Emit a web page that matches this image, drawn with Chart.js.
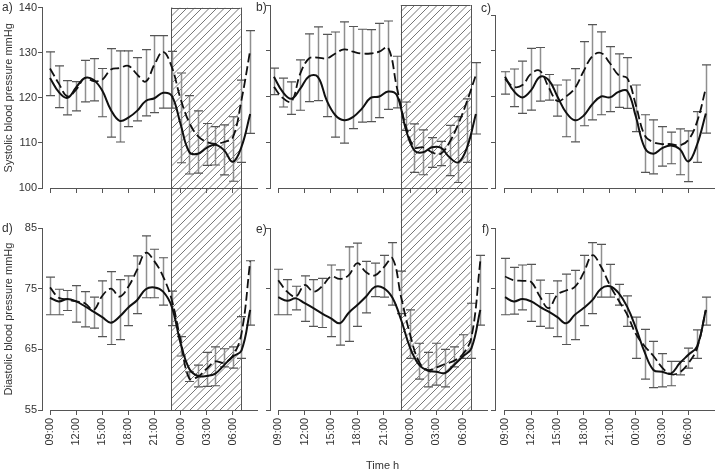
<!DOCTYPE html>
<html>
<head>
<meta charset="utf-8">
<script src="https://cdn.jsdelivr.net/npm/chart.js@4"></script>
<style>
  body { margin: 0; background: #fff; }
  #wrap { position: relative; width: 720px; height: 473px; overflow: hidden; font-family: "Liberation Sans", Arial, sans-serif; color: #333; }
  canvas { position: absolute; }
  .lbl { position: absolute; font-size: 12px; line-height: 12px; }
</style>
</head>
<body>
<div id="wrap"></div>
<script>
// hours after 09:00
const hours = [0, 1, 2, 3, 4, 5, 6, 7, 8, 9, 10, 11, 12, 13, 14, 15, 16, 17, 18, 19, 20, 21, 22, 23];
const hoursB = [-0.5, 0.5, 1.5, 2.5, 3.5, 4.5, 5.5, 6.5, 7.5, 8.5, 9.5, 10.5, 11.5, 12.5, 13.5, 14.5, 15.5, 16.5, 17.5, 18.5, 19.5, 20.5, 21.5, 22.5];
const tickHours = [0, 3, 6, 9, 12, 15, 18, 21];
const tickLabels = ['09:00', '12:00', '15:00', '18:00', '21:00', '00:00', '03:00', '06:00'];
const nightStart = 13.95, nightEnd = 21.9;

const sysTicks = [100, 110, 120, 130, 140];
const sysTicksC = [100, 110, 120, 130, 137.8];
const diaTicks = [55, 65, 75, 85];

// a) systolic
const solidA = [124.4, 121.3, 120.0, 122.3, 124.4, 124.0, 121.6, 117.3, 114.9, 115.6, 117.1, 119.3, 119.9, 121.1, 120.4, 114.2, 108.0, 107.6, 108.9, 109.6, 108.4, 105.8, 109.1, 116.4];
const dashedA = [126.5, 123.2, 120.3, 121.8, 124.4, 123.7, 124.0, 126.3, 126.6, 127.1, 125.2, 123.6, 127.4, 130.2, 126.8, 119.8, 114.5, 111.5, 110.2, 109.8, 110.2, 111.2, 119.5, 130.5];
const hiA = [130.2, 127.1, 123.8, 123.6, 128.3, 128.7, 126.5, 130.9, 130.4, 130.4, 128.9, 130.7, 133.8, 133.8, 130.3, 125.5, 120.5, 117.1, 114.3, 113.6, 114.0, 115.8, 123.9, 134.9];
const loA = [120.5, 117.8, 116.2, 117.1, 119.1, 119.3, 115.8, 111.3, 110.2, 113.6, 114.9, 116.0, 116.7, 117.7, 117.7, 105.6, 103.1, 103.3, 105.0, 105.1, 102.9, 101.5, 105.7, 112.1];

// b) systolic
const solidB = [124.3, 121.0, 119.5, 121.7, 124.4, 124.3, 119.2, 115.9, 114.8, 115.5, 117.3, 119.7, 120.0, 121.1, 120.3, 113.0, 108.2, 107.8, 108.9, 108.8, 106.7, 105.6, 108.9, 116.2];
const dashedB = [122.1, 119.7, 118.9, 125.0, 128.3, 128.5, 128.3, 129.4, 130.3, 129.8, 129.4, 129.4, 129.8, 130.7, 122.0, 113.7, 108.9, 108.9, 107.8, 107.5, 110.0, 114.0, 119.0, 124.7];
const hiB = [126.2, 124.0, 123.2, 128.0, 133.7, 135.2, 133.6, 134.1, 136.3, 135.3, 134.7, 134.6, 136.0, 136.5, 128.8, 118.8, 114.0, 112.7, 111.0, 110.2, 113.7, 115.6, 119.5, 127.4];
const loB = [120.4, 117.7, 116.1, 117.0, 118.9, 119.1, 115.6, 111.1, 109.8, 113.0, 114.4, 114.5, 115.4, 117.2, 117.5, 112.6, 103.4, 102.9, 104.5, 104.9, 102.7, 101.2, 105.6, 111.8];

// c) systolic
const solidC = [124.3, 121.2, 119.8, 121.4, 124.3, 123.6, 120.0, 116.5, 114.8, 115.8, 118.3, 120.0, 119.8, 121.0, 121.2, 115.5, 108.8, 107.5, 108.7, 109.3, 108.5, 105.8, 109.5, 116.3];
const dashedC = [123.8, 122.1, 122.5, 125.0, 125.6, 122.0, 119.0, 120.0, 121.8, 125.5, 128.8, 129.5, 127.3, 124.7, 124.0, 118.0, 111.5, 110.0, 109.6, 109.6, 109.3, 110.5, 114.5, 121.8];
const hiC = [125.4, 126.0, 127.7, 130.5, 130.7, 124.8, 122.5, 123.6, 126.1, 132.0, 135.7, 134.1, 130.9, 129.3, 128.5, 122.5, 116.0, 114.9, 113.4, 112.2, 112.9, 112.5, 116.7, 126.9];
const loC = [120.5, 117.8, 116.3, 117.0, 119.0, 119.2, 115.7, 111.2, 110.1, 113.6, 114.9, 116.0, 116.7, 117.6, 117.4, 112.3, 103.4, 103.1, 104.8, 105.3, 102.9, 101.4, 105.6, 112.0];

// d) diastolic
const solidD = [73.5, 72.9, 73.3, 72.9, 72.1, 71.2, 70.3, 69.4, 70.4, 71.9, 73.1, 74.9, 75.2, 74.5, 72.0, 66.0, 61.8, 60.6, 60.6, 61.0, 62.4, 63.8, 64.8, 71.5];
const dashedD = [75.2, 73.5, 73.2, 72.9, 72.6, 71.5, 73.8, 75.0, 73.7, 75.3, 78.1, 80.9, 79.5, 77.0, 73.1, 66.5, 60.2, 60.5, 61.8, 63.0, 62.8, 63.9, 67.6, 79.5];
const hiD = [76.9, 74.9, 74.7, 75.5, 74.5, 73.6, 76.3, 77.8, 76.5, 77.1, 80.4, 83.7, 81.5, 80.1, 74.6, 67.1, 61.3, 62.4, 64.5, 65.4, 65.1, 65.4, 70.4, 79.6];
const loD = [70.7, 70.7, 71.4, 69.5, 68.7, 68.5, 67.1, 65.8, 66.6, 68.9, 70.9, 73.5, 73.5, 72.3, 68.9, 63.9, 59.7, 58.8, 58.9, 59.0, 62.1, 61.9, 63.5, 69.0];

// e) diastolic
const solidE = [73.6, 73.0, 73.4, 72.6, 71.8, 70.9, 70.1, 69.3, 71.0, 72.3, 73.7, 75.3, 75.1, 73.5, 69.8, 65.3, 62.5, 61.5, 61.3, 61.1, 62.4, 63.8, 65.2, 71.5];
const dashedE = [76.4, 74.5, 73.7, 75.6, 74.5, 75.4, 77.0, 76.6, 77.2, 79.2, 77.7, 77.2, 78.5, 80.0, 73.5, 67.5, 63.0, 61.6, 62.0, 62.6, 63.1, 64.2, 67.0, 79.5];
const hiE = [78.2, 76.5, 75.4, 77.1, 76.5, 76.7, 78.9, 78.1, 81.9, 82.5, 79.5, 79.2, 80.5, 82.6, 77.9, 71.5, 66.0, 64.5, 66.0, 65.0, 65.4, 67.4, 72.6, 80.5];
const loE = [70.7, 70.7, 71.5, 69.6, 68.8, 68.6, 67.1, 65.7, 66.3, 68.8, 71.0, 73.7, 73.6, 72.3, 70.9, 63.5, 60.1, 58.8, 59.1, 58.8, 62.1, 63.5, 63.5, 69.0];

// f) diastolic
const solidF = [73.6, 72.9, 73.3, 72.9, 72.0, 71.2, 70.3, 69.3, 70.7, 71.8, 73.1, 75.0, 75.4, 74.3, 72.0, 68.5, 64.5, 61.6, 61.3, 61.0, 62.7, 64.1, 65.5, 71.5];
const dashedF = [77.0, 76.4, 76.3, 76.1, 73.7, 71.8, 74.0, 74.7, 75.3, 77.6, 80.5, 78.6, 75.6, 73.1, 70.7, 67.5, 65.5, 63.9, 62.0, 60.9, 61.2, 62.7, 65.2, 71.5];
const hiF = [80.0, 78.5, 78.9, 79.0, 76.4, 74.2, 76.3, 77.4, 78.0, 80.5, 82.6, 82.3, 79.0, 75.7, 73.8, 70.3, 68.3, 66.3, 64.3, 63.0, 63.0, 65.2, 68.2, 73.6];
const loF = [70.7, 70.8, 71.5, 69.6, 68.8, 68.5, 67.1, 65.8, 66.6, 68.9, 70.9, 73.6, 73.6, 72.3, 68.8, 63.5, 60.1, 58.7, 58.8, 59.0, 60.8, 61.9, 63.5, 69.0];

const rows = [
    { top: 0, height: 208, padTop: 5, axisH: 20, min: 100, max: 140, ticks: sysTicks, title: 'Systolic blood pressure mmHg', labels: false },
    { top: 208, height: 265, padTop: 20, axisH: 63, min: 55, max: 85, ticks: diaTicks, title: 'Diastolic blood pressure mmHg', labels: true }
];
const cols = [
    { left: 0, width: 260, axisW: 42, xMin: -0.92, xMax: 23.9 },
    { left: 262, width: 228, axisW: 8, xMin: -0.945, xMax: 23.88 },
    { left: 488, width: 229, axisW: 7, xMin: -1.145, xMax: 24.05 }
];

const panels = [
    { name: 'a)', row: 0, col: 0, hrs: hours, solid: solidA, dashed: dashedA, hi: hiA, lo: loA, night: true },
    { name: 'b)', row: 0, col: 1, hrs: hoursB, solid: solidB, dashed: dashedB, hi: hiB, lo: loB, night: true },
    { name: 'c)', row: 0, col: 2, hrs: hours, solid: solidC, dashed: dashedC, hi: hiC, lo: loC, night: false, max: 137.8, ticks: sysTicksC, padTop: 15 },
    { name: 'd)', row: 1, col: 0, hrs: hours, solid: solidD, dashed: dashedD, hi: hiD, lo: loD, night: true },
    { name: 'e)', row: 1, col: 1, hrs: hours, solid: solidE, dashed: dashedE, hi: hiE, lo: loE, night: true },
    { name: 'f)', row: 1, col: 2, hrs: hours, solid: solidF, dashed: dashedF, hi: hiF, lo: loF, night: false }
];

const labelPos = {
    'a)': [2, 1], 'b)': [256, 1], 'c)': [481, 2],
    'd)': [2, 222], 'e)': [256, 223], 'f)': [482, 223]
};

Chart.defaults.font.family = '"Liberation Sans", Arial, sans-serif';
Chart.defaults.font.size = 11;
Chart.defaults.color = '#333';

const AXIS = '#555';
const hatchGap = 7.5;

function makeExtras(p, row, col) {
    return {
        id: 'extras',
        beforeDatasetsDraw(chart) {
            const { ctx, chartArea: a, scales: { x, y } } = chart;
            ctx.save();

            // night period (hatched), continuous across both rows
            if (p.night) {
                const x0 = x.getPixelForValue(nightStart);
                const x1 = x.getPixelForValue(nightEnd);
                const y0 = p.row === 0 ? a.top : 0;
                const y1 = p.row === 0 ? chart.height : a.bottom;
                const off = col.left + row.top;
                ctx.save();
                ctx.beginPath();
                ctx.rect(x0, y0, x1 - x0, y1 - y0);
                ctx.clip();
                ctx.beginPath();
                let c = Math.ceil((x0 + y0 + off) / hatchGap) * hatchGap - off;
                for (; c < x1 + y1 + hatchGap; c += hatchGap) {
                    ctx.moveTo(c - y0, y0);
                    ctx.lineTo(c - y1, y1);
                }
                ctx.strokeStyle = '#666';
                ctx.lineWidth = 0.9;
                ctx.stroke();
                ctx.restore();

                ctx.beginPath();
                ctx.moveTo(Math.round(x0) + 0.5, y0);
                ctx.lineTo(Math.round(x0) + 0.5, y1);
                ctx.moveTo(Math.round(x1) + 0.5, y0);
                ctx.lineTo(Math.round(x1) + 0.5, y1);
                if (p.row === 0) {
                    ctx.moveTo(x0, Math.round(y0) + 0.5);
                    ctx.lineTo(x1, Math.round(y0) + 0.5);
                } else {
                    ctx.moveTo(x0, Math.round(y1) + 0.5);
                    ctx.lineTo(x1, Math.round(y1) + 0.5);
                }
                ctx.strokeStyle = '#555';
                ctx.lineWidth = 1;
                ctx.stroke();
            }

            // x axis line, starting at 09:00
            const by = Math.round(a.bottom) + 0.5;
            ctx.beginPath();
            ctx.moveTo(x.getPixelForValue(0), by);
            ctx.lineTo(a.right, by);
            ctx.strokeStyle = AXIS;
            ctx.lineWidth = 1;
            ctx.stroke();

            // error bars
            p.hi.forEach((hv, i) => {
                const px = Math.round(x.getPixelForValue(p.hrs[i])) + 0.5;
                const pt = y.getPixelForValue(hv);
                const pb = y.getPixelForValue(p.lo[i]);
                ctx.beginPath();
                ctx.moveTo(px, pt);
                ctx.lineTo(px, pb);
                ctx.strokeStyle = '#8f8f8f';
                ctx.lineWidth = 1.5;
                ctx.stroke();
                ctx.beginPath();
                ctx.moveTo(px - 4.5, pt);
                ctx.lineTo(px + 4.5, pt);
                ctx.moveTo(px - 4.5, pb);
                ctx.lineTo(px + 4.5, pb);
                ctx.strokeStyle = '#555';
                ctx.lineWidth = 1.2;
                ctx.stroke();
            });
            ctx.restore();
        }
    };
}

const wrap = document.getElementById('wrap');

panels.forEach(p => {
    const row = rows[p.row];
    const col = cols[p.col];
    const canvas = document.createElement('canvas');
    canvas.width = col.width;
    canvas.height = row.height;
    canvas.style.left = col.left + 'px';
    canvas.style.top = row.top + 'px';
    wrap.appendChild(canvas);

    const yMax = p.max || row.max;
    const yTicks = p.ticks || row.ticks;
    const first = p.col === 0;

    new Chart(canvas, {
        type: 'line',
        data: {
            datasets: [
                {
                    data: p.hrs.map((h, i) => ({ x: h, y: p.dashed[i] })),
                    borderColor: '#111',
                    borderWidth: 1.8,
                    borderDash: [9, 4],
                    tension: 0.4,
                    pointRadius: 0,
                    fill: false
                },
                {
                    data: p.hrs.map((h, i) => ({ x: h, y: p.solid[i] })),
                    borderColor: '#111',
                    borderWidth: 2,
                    tension: 0.4,
                    pointRadius: 0,
                    fill: false
                }
            ]
        },
        options: {
            responsive: false,
            animation: false,
            devicePixelRatio: 1,
            events: [],
            clip: false,
            layout: { padding: { top: p.padTop || row.padTop, right: 2, bottom: 0, left: 0 } },
            plugins: {
                legend: { display: false },
                tooltip: { enabled: false }
            },
            scales: {
                x: {
                    type: 'linear',
                    min: col.xMin,
                    max: col.xMax,
                    afterBuildTicks: s => { s.ticks = tickHours.map(v => ({ value: v })); },
                    afterFit: s => { s.height = row.axisH; },
                    border: { display: false },
                    grid: { drawOnChartArea: false, drawTicks: true, tickLength: 5, color: AXIS },
                    ticks: {
                        display: row.labels,
                        autoSkip: false,
                        minRotation: 90,
                        maxRotation: 90,
                        padding: 3,
                        callback: (v, i) => tickLabels[i]
                    }
                },
                y: {
                    min: row.min,
                    max: yMax,
                    afterBuildTicks: s => { s.ticks = yTicks.map(v => ({ value: v })); },
                    afterFit: s => { s.width = col.axisW; },
                    border: { display: true, color: AXIS, width: 1 },
                    grid: { drawOnChartArea: false, drawTicks: true, tickLength: 4, color: AXIS },
                    ticks: { display: first, padding: 1 },
                    title: { display: first, text: row.title, padding: { top: 2, bottom: 0 }, font: { size: 11 } }
                }
            }
        },
        plugins: [makeExtras(p, row, col)]
    });

    const lbl = document.createElement('div');
    lbl.className = 'lbl';
    lbl.textContent = p.name;
    lbl.style.left = labelPos[p.name][0] + 'px';
    lbl.style.top = labelPos[p.name][1] + 'px';
    wrap.appendChild(lbl);
});

const xt = document.createElement('div');
xt.className = 'lbl';
xt.style.fontSize = '11px';
xt.textContent = 'Time h';
xt.style.left = '366px';
xt.style.top = '459px';
wrap.appendChild(xt);
</script>
</body>
</html>
